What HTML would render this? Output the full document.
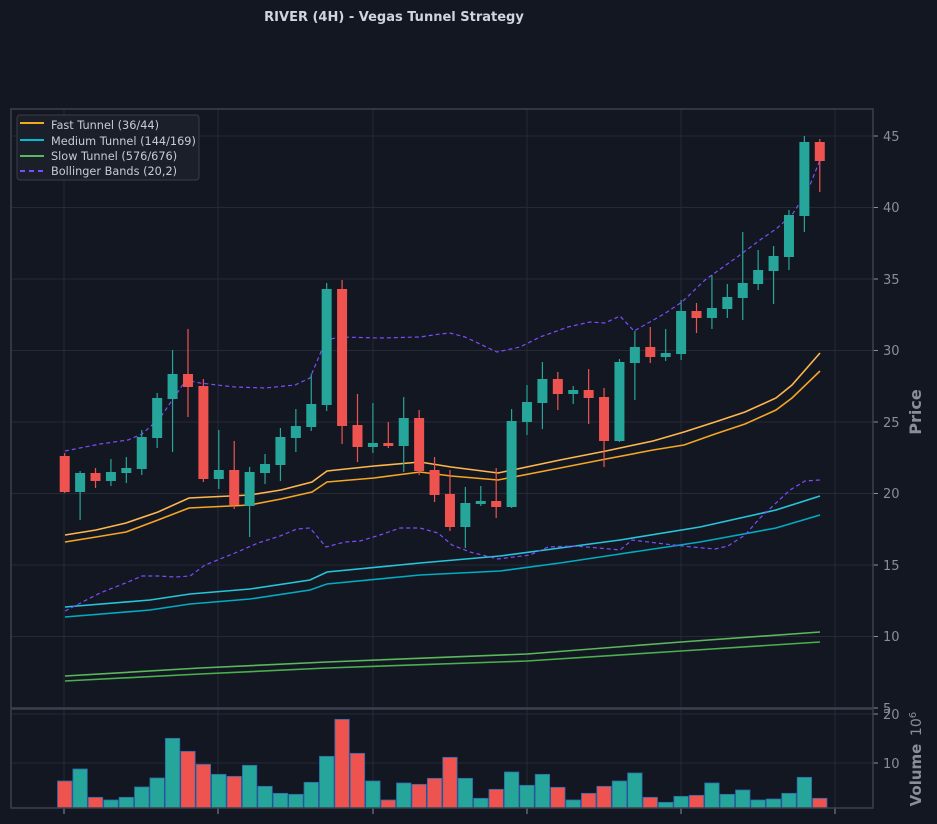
<!DOCTYPE html>
<html><head><meta charset="utf-8">
<style>
html,body{margin:0;padding:0;background:#131722;}
svg{display:block;font-family:"DejaVu Sans","Liberation Sans",sans-serif;}
</style></head>
<body>
<svg id="s" width="937" height="824" viewBox="0 0 937 824" xmlns="http://www.w3.org/2000/svg">
<rect width="937" height="824" fill="#131722"/>
<text x="394" y="21" text-anchor="middle" fill="#d1d4dc" font-size="13" font-weight="bold">RIVER (4H) - Vegas Tunnel Strategy</text>
<g id="grid" stroke="#262a35" stroke-width="1"></g>
<g id="lines" fill="none"></g>
<g id="candles"></g>
<g id="vol"></g>
<rect x="11" y="109" width="862" height="599" fill="none" stroke="#3d414c" stroke-width="1.5"/>
<rect x="11" y="709" width="862" height="99" fill="none" stroke="#3d414c" stroke-width="1.5"/>
<g fill="#8a8e99" font-size="13">
<text x="883" y="141">45</text><text x="883" y="212">40</text><text x="883" y="284">35</text>
<text x="883" y="355">30</text><text x="883" y="427">25</text><text x="883" y="498">20</text>
<text x="883" y="570">15</text><text x="883" y="641">10</text><text x="883" y="713">5</text>
<text x="883" y="719">20</text><text x="883" y="768">10</text>
</g>
<text transform="translate(921,412) rotate(-90)" text-anchor="middle" fill="#8a8e99" font-size="16" font-weight="bold">Price</text>
<text transform="translate(921,775) rotate(-90)" text-anchor="middle" fill="#8a8e99" font-size="15" font-weight="bold">Volume</text>
<text transform="translate(921,724) rotate(-90)" text-anchor="middle" fill="#8a8e99" font-size="14">10<tspan font-size="10" dy="-5">6</tspan></text>
<g>
<rect x="17" y="115" width="182" height="65" rx="3" fill="#1b1f29" stroke="#3a3e49"/>
<line x1="20" y1="123" x2="44" y2="123" stroke="#f5a623" stroke-width="2"/>
<line x1="20" y1="140" x2="44" y2="140" stroke="#00bcd4" stroke-width="2"/>
<line x1="20" y1="156" x2="44" y2="156" stroke="#5cb85c" stroke-width="2"/>
<line x1="20" y1="171" x2="44" y2="171" stroke="#7c4dff" stroke-width="2" stroke-dasharray="5,4"/>
<g fill="#c8cbd3" font-size="11.3">
<text x="51" y="129">Fast Tunnel (36/44)</text>
<text x="51" y="145">Medium Tunnel (144/169)</text>
<text x="51" y="160">Slow Tunnel (576/676)</text>
<text x="51" y="175">Bollinger Bands (20,2)</text>
</g></g>
</svg>
<script>
const NS="http://www.w3.org/2000/svg";
function el(p,t,a){const e=document.createElementNS(NS,t);for(const k in a)e.setAttribute(k,a[k]);p.appendChild(e);return e;}
const grid=document.getElementById('grid');
const gx=[64,218,373,527,681,835];
gx.forEach(x=>{el(grid,'line',{x1:x,y1:109,x2:x,y2:708});el(grid,'line',{x1:x,y1:709,x2:x,y2:808});el(grid,'line',{x1:x,y1:808,x2:x,y2:814,stroke:'#8a8e99'});});
for(let p=10;p<=45;p+=5){const y=708-(p-5)*14.3;el(grid,'line',{x1:11,y1:y,x2:873,y2:y});el(grid,'line',{x1:873,y1:y,x2:878,y2:y,stroke:'#8a8e99'});}
[714,763].forEach(y=>{el(grid,'line',{x1:11,y1:y,x2:873,y2:y});el(grid,'line',{x1:873,y1:y,x2:878,y2:y,stroke:'#8a8e99'});});
el(grid,'line',{x1:873,y1:708,x2:878,y2:708,stroke:'#8a8e99'});
const L=document.getElementById('lines');
function pl(pts,c,w,d){const a={points:pts.map(p=>p.join(',')).join(' '),stroke:c,'stroke-width':w};if(d)a['stroke-dasharray']=d;el(L,'polyline',a);}
pl([[65,535],[96,530],[126,523],[158,512],[189,498],[250,495],[281,490],[312,482],[327,471],[374,466],[420,462],[451,467],[498,473],[560,460],[606,451],[653,441],[684,432],[715,422],[745,412],[776,398],[792,385],[820,353]],'#ffb74d',1.6);
pl([[65,542],[96,537],[126,532],[158,520],[189,508],[250,505],[281,499],[312,492],[327,482],[374,478],[420,472],[451,476],[498,480],[560,468],[606,459],[653,450],[684,445],[715,434],[745,424],[776,410],[792,398],[820,371]],'#f5a623',1.6);
pl([[65,607],[150,600],[190,594],[250,589],[310,580],[327,572],[420,563],[500,556],[560,548],[620,540],[700,527],[776,510],[820,496]],'#26c6da',1.6);
pl([[65,617],[150,610],[190,604],[250,599],[310,590],[327,584],[420,575],[500,571],[560,563],[620,554],[700,542],[776,528],[820,515]],'#00acc1',1.6);
pl([[65,676],[200,668],[327,662],[527,654],[681,642],[820,632]],'#5cb85c',1.6);
pl([[65,681],[200,674],[327,668],[527,661],[681,651],[820,642]],'#4caf50',1.6);
pl([[65,451],[100,444],[128,440],[142,434],[160,418],[186,380],[200,383],[235,387],[265,388],[295,385],[310,378],[326,340],[340,337],[380,338],[420,337],[440,334],[450,333],[465,337],[497,352],[520,347],[540,337],[568,327],[590,322],[605,323],[620,316],[634,331],[664,314],[682,302],[705,280],[740,255],[760,240],[776,229],[792,215],[808,190],[820,160]],'#7c4dff',1.2,'4,3');
pl([[65,611],[100,593],[128,582],[142,576],[158,576],[175,577],[190,576],[205,565],[235,553],[258,543],[280,536],[297,529],[310,528],[326,547],[345,542],[360,541],[380,535],[400,528],[420,528],[438,533],[452,545],[470,552],[498,559],[530,555],[548,547],[575,546],[610,549],[620,550],[632,540],[665,544],[692,547],[715,549],[728,546],[745,535],[760,518],[790,490],[805,481],[820,480]],'#7c4dff',1.2,'4,3');
const C=[
['R',456,492,453,493],['G',473,492,471,520],['R',473,481,468,488],['G',472,481,459,486],['G',468,473,457,483],
['G',437,469,430,475],['G',398,438,393,448],['G',374,399,350,452],['R',374,387,329,417],['R',386,479,379,482],
['G',470,479,430,489],['R',470,505,441,509],['G',472,506,467,537],['G',464,473,454,484],['G',437,465,428,481],
['G',426,438,409,452],['G',404,427,374,431],['G',289,405,283,411],['R',289,426,280,444],['R',425,447,394,462],
['G',443,447,403,453],['R',443,446,422,448],['G',418,446,397,472],['R',418,471,410,475],['R',470,495,457,502],
['R',494,527,470,531],['G',503,527,487,548],['G',501,504,486,506],['R',501,507,468,518],['G',421,507,409,508],
['G',402,422,385,435],['G',379,403,362,429],['R',379,394,372,410],['G',390,394,386,404],['R',390,398,369,424],
['R',397,441,388,467],['G',362,441,359,442],['G',347,363,331,400],['R',347,357,327,363],['G',353,357,329,361],
['G',311,354,300,360],['R',311,318,303,333],['G',308,318,275,329],['G',297,309,284,318],['G',283,298,232,320],
['G',270,284,250,290],['G',256,271,246,304],['G',215,257,210,270],['G',142,216,136,232],['R',142,161,139,192]];
const V=[243,207,292,300,292,261,234,115,154,193,223,229,196,259,280,283,247,169,58,160,243,300,249,253,235,172,235,295,268,216,256,223,262,300,280,259,243,219,292,307,289,286,249,283,270,300,297,280,232,295];
const cg=document.getElementById('candles'),vg=document.getElementById('vol');
C.forEach((c,i)=>{const x=64.7+15.41*i;const col=c[0]=='G'?'#26a69a':'#ef5350';
el(cg,'line',{x1:x,y1:c[3],x2:x,y2:c[4],stroke:col,'stroke-width':1.2});
el(cg,'rect',{x:x-5,y:c[1],width:10,height:Math.max(1.5,c[2]-c[1]),fill:col});
const vy=700+V[i]/3;el(vg,'rect',{x:x-7.2,y:vy,width:14.4,height:808-vy,fill:col,stroke:'#2b6cb0','stroke-width':0.8});});
</script>
</body></html>
